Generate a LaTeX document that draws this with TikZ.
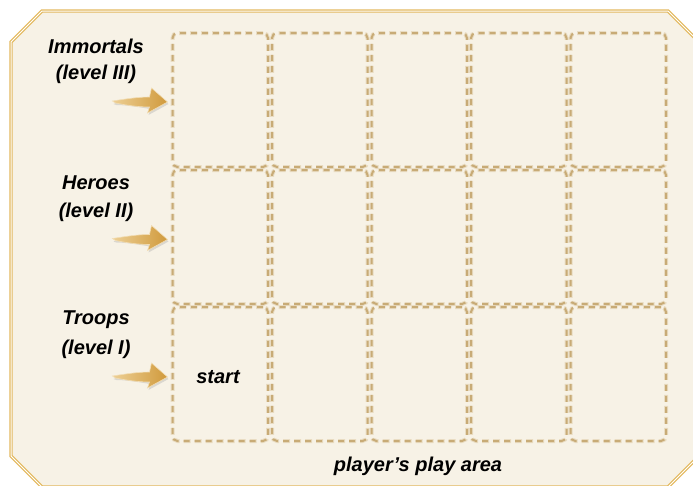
\documentclass[tikz,border=0pt]{standalone}
\usepackage{fontspec}
\setmainfont{Liberation Sans}
\usetikzlibrary{calc}
\definecolor{bgfill}{HTML}{F7F2E6}
\definecolor{goldline}{HTML}{E3B95F}
\definecolor{dashtan}{HTML}{C8AB76}
\definecolor{dashsoft}{HTML}{E9DCC2}
\definecolor{arrowlight}{HTML}{EDCF94}
\definecolor{arrowdark}{HTML}{D09A3C}
\tikzset{
  cardsoft/.style={draw=dashsoft, line width=4pt, rounded corners=5pt,
    dash pattern=on 7pt off 4pt, minimum width=95.5pt, minimum height=134pt, inner sep=0pt},
  card/.style={draw=dashtan, line width=2pt, rounded corners=5pt,
    dash pattern=on 6pt off 5pt, minimum width=95.5pt, minimum height=134pt, inner sep=0pt},
  lbl/.style={font=\fontsize{20}{24}\selectfont\bfseries\itshape, text=black, inner sep=0pt},
  pics/goldarrow/.style={code={
    \fill[black!35, opacity=0.35] ($(-55,0)+(1,2)$) .. controls (-42,-3) and (-30,-5) .. ($(-18,-5)+(1,2)$)
      -- ($(-16,-14)+(1,2)$) -- ($(0,0)+(1,2)$) -- ($(-20,11)+(1,2)$) -- ($(-18,5)+(1,2)$)
      .. controls (-30,5) and (-42,3) .. ($(-52,1)+(1,2)$) -- cycle;
    \shade[left color=arrowlight, right color=arrowdark, draw=arrowlight!70!white, line width=0.6pt]
      (-55,-1) .. controls (-42,-3) and (-30,-5) .. (-18,-5)
      -- (-16,-14) -- (0,0) -- (-20,11) -- (-18,5)
      .. controls (-30,5) and (-42,3) .. (-52,1) -- cycle;
  }}
}
\begin{document}
\begin{tikzpicture}[x=1pt,y=-1pt]
\useasboundingbox (0,0) rectangle (693,485);
\begin{scope}
\clip (0,0) rectangle (693,485);
\path[fill=bgfill, draw=goldline, line width=3.4pt]
  (11,42) -- (42,11) -- (668,11) -- (699,42) -- (699,456) -- (668,487) -- (42,487) -- (11,456) -- cycle;
\draw[white, line width=1pt]
  (11,42) -- (42,11) -- (668,11) -- (699,42) -- (699,456) -- (668,487) -- (42,487) -- (11,456) -- cycle;
\end{scope}
% cards
\foreach \r/\y in {1/100,2/237,3/374}{
  \foreach \c in {1,...,5}{
    \pgfmathsetmacro{\xx}{220.25+99.5*(\c-1)}
    \node[cardsoft] at (\xx,\y) {};
  }
}
\foreach \r/\y in {1/100,2/237,3/374}{
  \foreach \c in {1,...,5}{
    \pgfmathsetmacro{\xx}{220.25+99.5*(\c-1)}
    \node[card] (c\r\c) at (\xx,\y) {};
  }
}
% arrows
\pic at ($(c11.west)+(-4,2)$) {goldarrow};
\pic at ($(c21.west)+(-4,2.5)$) {goldarrow};
\pic at ($(c31.west)+(-4,3)$) {goldarrow};
% labels
\node[lbl] (l1a) at (96,46) {Immortals};
\node[lbl] (l1b) at (96,74) {(level III)};
\node[lbl] (l2a) at (96,183) {Heroes};
\node[lbl] (l2b) at (96,212) {(level II)};
\node[lbl] (l3a) at (96,320) {Troops};
\node[lbl] (l3b) at (96,349) {(level I)};
\node[lbl] (st) at (218,377) {start};
\node[lbl] (pa) at (418,466) {player’s play area};
\end{tikzpicture}
\end{document}
